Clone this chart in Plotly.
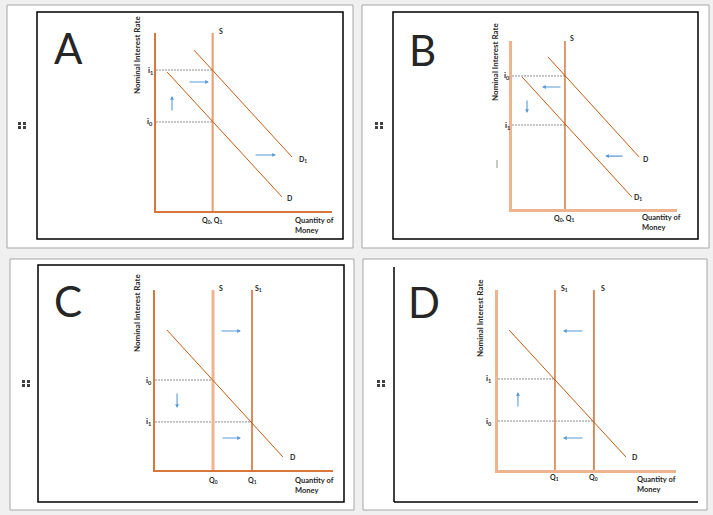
import plotly.graph_objects as go

W, H = 713, 515

# ---------------- data (normalised units: quantity 0-100, interest rate 0-100) ----------------
# Panel A : money demand rises (D -> D1), supply fixed
A_S_q = 32.2
A_D_q = [6.3, 71.6]
A_D_r = [78.1, 7.9]
A_D1_q = [21.6, 77.3]
A_D1_r = [90.4, 30.3]
A_i_r = [50.0, 79.2]          # i0, i1
A_i_q = [32.2, 32.2]
A_i_lab = ["i<sub>0</sub>", "i<sub>1</sub>"]
A_arrow_tail = [(18.2, 72.5), (9.1, 55.6), (55.7, 31.5)]
A_arrow_head = [(30.1, 72.5), (9.1, 64.6), (68.2, 31.5)]

# Panel B : money demand falls (D -> D1), supply fixed
B_S_q = 32.1
B_D_q = [21.8, 77.0]
B_D_r = [90.5, 31.0]
B_D1_q = [6.1, 72.7]
B_D1_r = [78.6, 7.1]
B_i_r = [79.2, 50.0]          # i0, i1
B_i_q = [32.1, 32.1]
B_i_lab = ["i<sub>0</sub>", "i<sub>1</sub>"]
B_arrow_tail = [(30.3, 72.6), (9.1, 65.5), (67.9, 31.5)]
B_arrow_head = [(18.2, 72.6), (9.1, 57.1), (56.4, 31.5)]

# Panel C : money supply rises (S -> S1)
C_S_q = 32.6
C_S1_q = 54.5
C_D_q = [6.7, 71.9]
C_D_r = [77.8, 7.2]
C_i_r = [50.0, 26.7]          # i0, i1
C_i_q = [32.6, 54.5]
C_i_lab = ["i<sub>0</sub>", "i<sub>1</sub>"]
C_arrow_tail = [(36.5, 77.2), (12.4, 43.3), (37.1, 17.8)]
C_arrow_head = [(48.3, 77.2), (12.4, 34.4), (48.3, 17.8)]

# Panel D : money supply falls (S -> S1)
D_S1_q = 32.0
D_S_q = 53.9
D_D_q = [6.2, 71.9]
D_D_r = [77.8, 7.2]
D_i_r = [50.6, 27.2]          # i1, i0
D_i_q = [32.0, 53.9]
D_i_lab = ["i<sub>1</sub>", "i<sub>0</sub>"]
D_arrow_tail = [(48.3, 77.2), (11.2, 34.4), (48.3, 17.8)]
D_arrow_head = [(36.5, 77.2), (11.2, 43.3), (36.5, 17.8)]

# ---------------- styling ----------------
DARK = "#C55A11"
MID = "#D9773A"
PEACH = "#EDB48F"
BLUE = "#5B9BD5"
GUIDE = "#7F7F7F"
TXT = "#262626"
FONT = "Lato"

fig = go.Figure()


def px(x):
    return x / W


def py(y):
    return 1 - y / H


# panel layout: axis origin (px) and axis ends
panels = [
    dict(x0=156, x1=332, y0=211, y1=33, axcol=MID, axw=1.5),
    dict(x0=512, x1=677, y0=209, y1=41, axcol=PEACH, axw=2.5),
    dict(x0=155, x1=333, y0=470, y1=290, axcol=MID, axw=1.5),
    dict(x0=498, x1=676, y0=470, y1=290, axcol=PEACH, axw=2.5),
]

for k, p in enumerate(panels, start=1):
    xa = "xaxis" if k == 1 else f"xaxis{k}"
    ya = "yaxis" if k == 1 else f"yaxis{k}"
    common = dict(range=[0, 100], showgrid=False, zeroline=False, showticklabels=False,
                  ticks="", showline=True, linecolor=p["axcol"], linewidth=p["axw"], fixedrange=True)
    fig.update_layout({
        xa: dict(domain=[px(p["x0"]), px(p["x1"])], anchor=f"y{k}", **common),
        ya: dict(domain=[py(p["y0"]), py(p["y1"])], anchor=f"x{k}", **common),
    })


def to_paper(k, x, y):
    p = panels[k - 1]
    X = p["x0"] + (p["x1"] - p["x0"]) * x / 100.0
    Y = p["y0"] - (p["y0"] - p["y1"]) * y / 100.0
    return px(X), py(Y)


def line(k, xs, ys, color, width, dash="solid"):
    fig.add_trace(go.Scatter(x=xs, y=ys, mode="lines", xaxis=f"x{k}", yaxis=f"y{k}",
                             line=dict(color=color, width=width, dash=dash),
                             showlegend=False, hoverinfo="skip"))


def label(k, x, y, text, size=7, bold=True, xanchor="center", angle=0, align="center"):
    t = f"<b>{text}</b>" if bold else text
    X, Y = to_paper(k, x, y)
    fig.add_annotation(x=X, y=Y, xref="paper", yref="paper", text=t, showarrow=False,
                       xanchor=xanchor, yanchor="middle", textangle=angle, align=align,
                       font=dict(family=FONT, size=size, color=TXT))


def arrows(k, tails, heads):
    for (tx, ty), (hx, hy) in zip(tails, heads):
        fig.add_annotation(x=hx, y=hy, ax=tx, ay=ty, xref=f"x{k}", yref=f"y{k}",
                           axref=f"x{k}", ayref=f"y{k}", text="", showarrow=True,
                           arrowhead=2, arrowsize=0.7, arrowwidth=1.1, arrowcolor=BLUE)


def guides(k, rates, qs, labs, labx):
    for r, q, lab in zip(rates, qs, labs):
        line(k, [0, q], [r, r], GUIDE, 0.9, dash="2px,1px")
        label(k, labx, r, lab, size=8)


def common_text(k, nir_xy, qom_xy, letter_xy, letter):
    label(k, nir_xy[0], nir_xy[1], "Nominal Interest Rate", size=8, angle=-90)
    label(k, qom_xy[0], qom_xy[1], "Quantity of<br>Money", size=7.5, xanchor="left", align="left")
    label(k, letter_xy[0], letter_xy[1], letter, size=42, bold=False)


S1 = "S<sub>1</sub>"
D1 = "D<sub>1</sub>"
Q0 = "Q<sub>0</sub>"
Q1 = "Q<sub>1</sub>"

# ---- Panel A ----
guides(1, A_i_r, A_i_q, A_i_lab, -3.4)
line(1, [A_S_q, A_S_q], [0, 100], "#E8A27A", 2.2)
line(1, A_D_q, A_D_r, DARK, 1)
line(1, A_D1_q, A_D1_r, DARK, 1)
label(1, A_S_q + 4.7, 101, "S")
label(1, A_D_q[1] + 4.5, A_D_r[1] - 0.6, "D")
label(1, A_D1_q[1] + 6.2, A_D1_r[1] - 1.6, D1)
label(1, A_S_q, -5.6, f"{Q0}, {Q1}")
arrows(1, A_arrow_tail, A_arrow_head)
common_text(1, (-10.8, 87.6), (77.8, -7.9), (-50, 91.6), "A")

# ---- Panel B ----
guides(2, B_i_r, B_i_q, B_i_lab, -3.0)
line(2, [B_S_q, B_S_q], [0, 101], DARK, 1.2)
line(2, B_D_q, B_D_r, DARK, 1)
line(2, B_D1_q, B_D1_r, DARK, 1)
label(2, B_S_q + 4.3, 101.8, "S")
label(2, B_D_q[1] + 4.2, B_D_r[1] - 1.2, "D")
label(2, B_D1_q[1] + 3.7, B_D1_r[1], D1)
label(2, B_S_q, -5.4, f"{Q0}, {Q1}")
arrows(2, B_arrow_tail, B_arrow_head)
common_text(2, (-10.3, 87.5), (77.6, -8.0), (-54.5, 94.6), "B")

# ---- Panel C ----
guides(3, C_i_r, C_i_q, C_i_lab, -3.4)
line(3, [C_S_q, C_S_q], [0, 100.5], PEACH, 3)
line(3, [C_S1_q, C_S1_q], [0, 100.5], "#D0682C", 1.5)
line(3, C_D_q, C_D_r, DARK, 1)
label(3, C_S_q + 4.5, 101.1, "S")
label(3, C_S1_q + 3.9, 101.1, S1)
label(3, C_D_q[1] + 5.6, C_D_r[1], "D")
label(3, C_S_q, -6.1, Q0)
label(3, C_S1_q, -6.1, Q1)
arrows(3, C_arrow_tail, C_arrow_head)
common_text(3, (-10.1, 87.2), (77.5, -8.6), (-48.9, 93.9), "C")

# ---- Panel D ----
guides(4, D_i_r, D_i_q, D_i_lab, -5.1)
line(4, [D_S1_q, D_S1_q], [0, 100.5], "#D9773A", 1.5)
line(4, [D_S_q, D_S_q], [0, 100.5], "#D0682C", 1.5)
line(4, D_D_q, D_D_r, DARK, 1)
label(4, D_S1_q + 5.6, 101.1, S1)
label(4, D_S_q + 5.1, 101.1, "S")
label(4, D_D_q[1] + 5.1, D_D_r[1], "D")
label(4, D_S1_q, -4.4, Q1)
label(4, D_S_q, -4.4, Q0)
arrows(4, D_arrow_tail, D_arrow_head)
common_text(4, (-10.1, 84.4), (77.0, -7.8), (-41.6, 93.3), "D")

# ---------------- card decoration (paper coordinates) ----------------
shapes = []
cards = [(7, 5, 353, 248), (362, 5, 709, 248), (10, 259, 354, 510), (363, 259, 707, 510)]
for (x0, y0, x1, y1) in cards:
    shapes.append(dict(type="rect", xref="paper", yref="paper", x0=px(x0), x1=px(x1), y0=py(y0), y1=py(y1),
                       line=dict(color="#A6A6A6", width=1), fillcolor="white", layer="below"))
inner = [(37, 12, 343, 239), (393, 12, 698, 239), (38, 265, 344, 502)]
for (x0, y0, x1, y1) in inner:
    shapes.append(dict(type="rect", xref="paper", yref="paper", x0=px(x0), x1=px(x1), y0=py(y0), y1=py(y1),
                       line=dict(color="black", width=1.5), layer="below"))
# panel D: only left and bottom edges
shapes.append(dict(type="line", xref="paper", yref="paper", x0=px(394), x1=px(394), y0=py(267), y1=py(502),
                   line=dict(color="black", width=1.5), layer="below"))
shapes.append(dict(type="line", xref="paper", yref="paper", x0=px(394), x1=px(698), y0=py(502), y1=py(502),
                   line=dict(color="black", width=1.5), layer="below"))
# drag handles
for (hx, hy) in [(18, 122), (375, 122), (22, 380), (377, 380)]:
    for dx in (0, 5):
        for dy in (0, 4):
            shapes.append(dict(type="rect", xref="paper", yref="paper",
                               x0=px(hx + dx), x1=px(hx + dx + 3), y0=py(hy + dy), y1=py(hy + dy + 3),
                               line=dict(width=0), fillcolor="#404040", layer="below"))
# small grey stray mark in panel B
shapes.append(dict(type="line", xref="paper", yref="paper", x0=px(497), x1=px(497), y0=py(160), y1=py(168),
                   line=dict(color="#C8C8C8", width=2), layer="below"))

fig.update_layout(
    width=W, height=H, margin=dict(l=0, r=0, t=0, b=0),
    paper_bgcolor="#F0F0F0", plot_bgcolor="rgba(0,0,0,0)",
    shapes=shapes, showlegend=False, hovermode=False,
)

fig.write_html("out.html", config={"displayModeBar": False},
               post_script="document.body.style.margin='0px';")
